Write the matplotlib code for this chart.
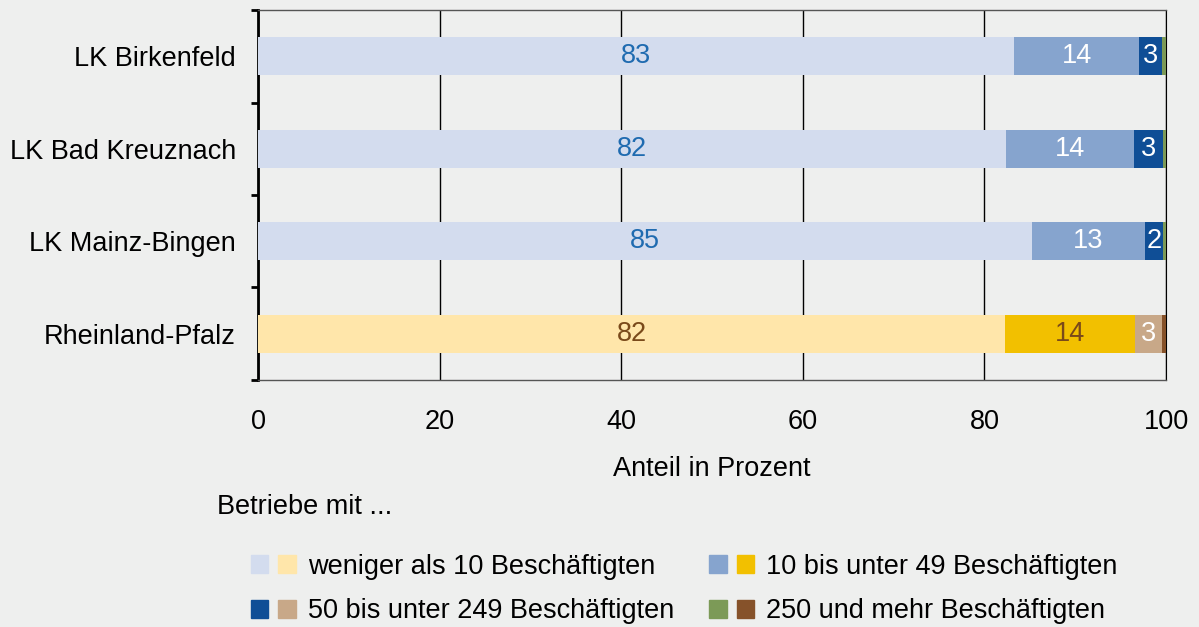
import numpy as np
import matplotlib.pyplot as plt
from matplotlib.patches import Patch
from matplotlib.legend_handler import HandlerTuple

plt.rcParams['font.family'] = ['Liberation Sans', 'DejaVu Sans']

regions = ["LK Birkenfeld", "LK Bad Kreuznach", "LK Mainz-Bingen", "Rheinland-Pfalz"]
# shares in percent: <10, 10-49, 50-249, 250+ employees
unter10 = [83.3, 82.4, 85.2, 82.3]
von10 = [13.7, 14.1, 12.5, 14.3]
von50 = [2.6, 3.2, 2.0, 3.0]
ab250 = [0.4, 0.3, 0.3, 0.4]
shown = [[83, 14, 3], [82, 14, 3], [85, 13, 2], [82, 14, 3]]

legend_labels = ["weniger als 10 Beschäftigten", "10 bis unter 49 Beschäftigten",
                 "50 bis unter 249 Beschäftigten", "250 und mehr Beschäftigten"]

blue_cols = ["#d3dcee", "#86a4ce", "#0f4e96", "#7c9a57"]
rlp_cols = ["#ffe6aa", "#f2c000", "#c8a888", "#86522a"]
blue_txt = ["#1f6bb0", "white", "white"]
rlp_txt = ["#7a4a1a", "#7a4a1a", "white"]

fs = 19.5
bg = "#eeefee"
fig = plt.figure(figsize=(11.99, 6.27), dpi=100, facecolor=bg)
ax = fig.add_axes([0.2152, 0.394, 0.7573, 0.590], facecolor=bg)

series = [unter10, von10, von50, ab250]
y = np.arange(len(regions))
left = np.zeros(len(regions))
for k, vals in enumerate(series):
    vals = np.array(vals)
    for i in range(len(regions)):
        cols = rlp_cols if regions[i] == "Rheinland-Pfalz" else blue_cols
        ax.barh(y[i], vals[i], left=left[i], height=0.41, color=cols[k], zorder=3)
        if k < 3:
            tc = rlp_txt[k] if regions[i] == "Rheinland-Pfalz" else blue_txt[k]
            ax.text(left[i] + vals[i] / 2, y[i], str(shown[i][k]), ha='center', va='center',
                    color=tc, fontsize=fs, zorder=4)
    left += vals

ax.set_xlim(0, 100)
ax.set_ylim(3.5, -0.5)
ax.set_yticks(y)
ax.set_yticklabels(regions, fontsize=fs)
ax.set_yticks(np.arange(-0.5, 4, 1), minor=True)
ax.tick_params(axis='y', which='major', length=0, pad=16)
ax.tick_params(axis='y', which='minor', length=5, width=2, color='black')
ax.set_xticks([0, 20, 40, 60, 80, 100])
ax.tick_params(axis='x', length=0, labelsize=fs, pad=21)
ax.xaxis.grid(True, color='black', linewidth=1, zorder=1)
ax.set_xlabel("Anteil in Prozent", fontsize=fs, labelpad=15)

ax.spines['left'].set_linewidth(2)
ax.spines['left'].set_color('black')
ax.spines['right'].set_color('black')
for s in ['top', 'bottom']:
    ax.spines[s].set_color('#555555')
    ax.spines[s].set_linewidth(1)

fig.text(0.181, 1 - 507 / 627, "Betriebe mit ...", fontsize=fs, va='center')

handles = [(Patch(color=blue_cols[k]), Patch(color=rlp_cols[k])) for k in range(4)]
order = [0, 2, 1, 3]
fig.legend([handles[j] for j in order], [legend_labels[j] for j in order], ncol=2,
           loc='center left', bbox_to_anchor=(251 / 1199, 1 - 589 / 627),
           frameon=False, fontsize=fs, handler_map={tuple: HandlerTuple(ndivide=None, pad=0.38)},
           handlelength=1.65, handleheight=0.65, handletextpad=0.45, columnspacing=1.3,
           labelspacing=0.7, borderpad=0, borderaxespad=0)

fig.savefig("out.png", dpi=100, facecolor=bg)
